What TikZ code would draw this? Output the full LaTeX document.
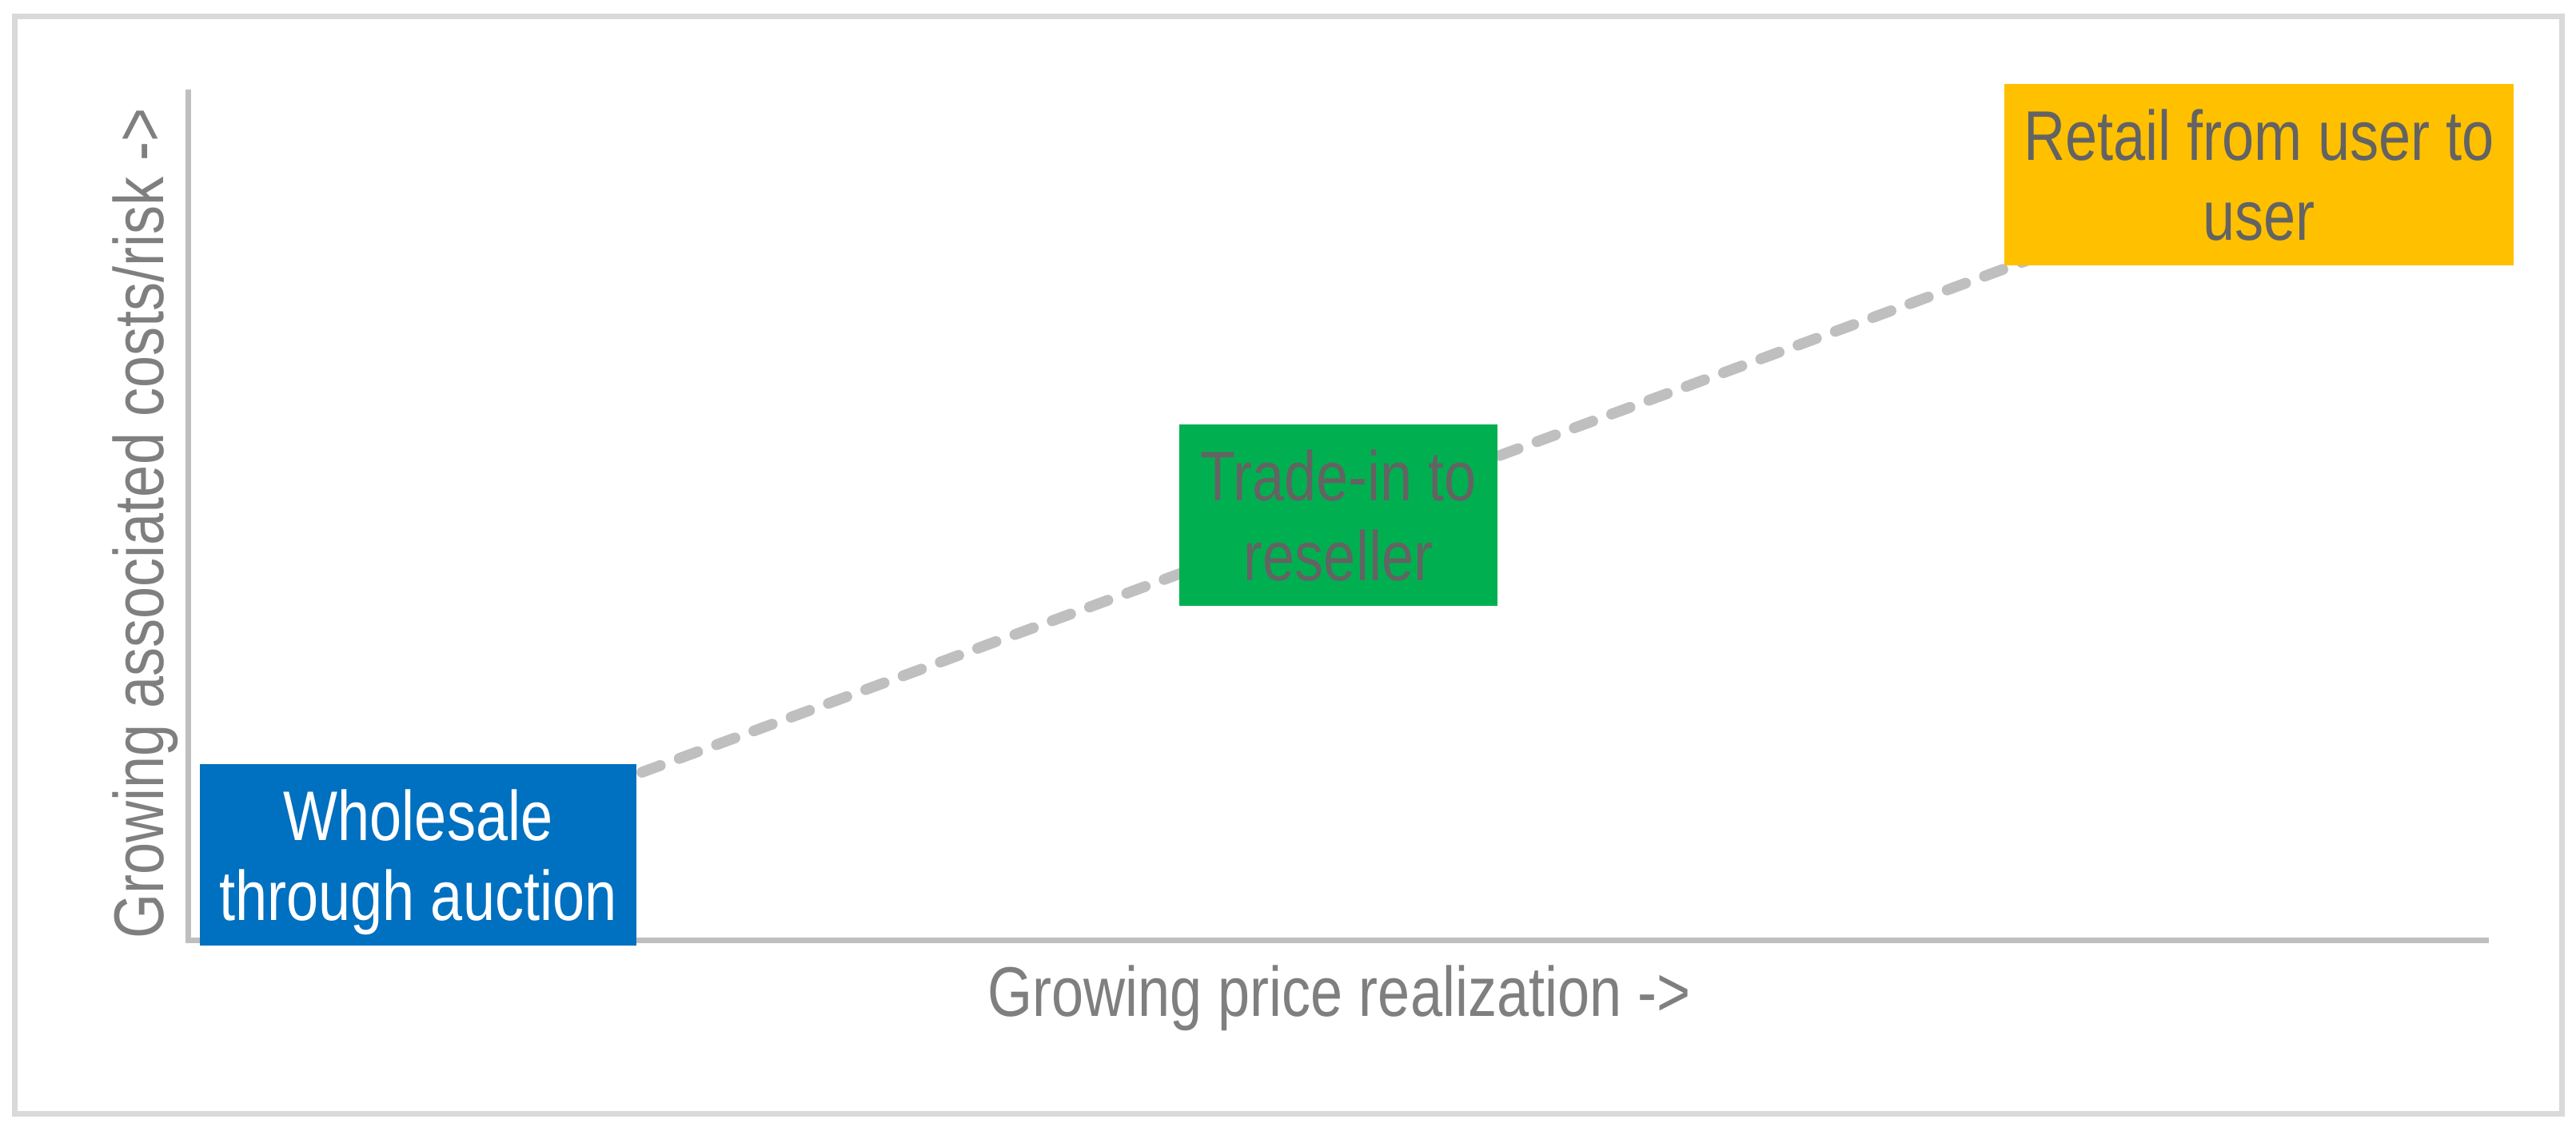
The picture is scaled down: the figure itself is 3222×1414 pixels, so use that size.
\documentclass[tikz,border=0pt]{standalone}
\usepackage{fontspec}
\setmainfont{Liberation Sans}[FakeStretch=0.82]
\usetikzlibrary{backgrounds}
\definecolor{framegray}{HTML}{D9D9D9}
\definecolor{axisgray}{HTML}{BFBFBF}
\definecolor{labelgray}{HTML}{7F7F7F}
\definecolor{boxtext}{HTML}{636363}
\definecolor{blueb}{HTML}{0070C0}
\definecolor{greenb}{HTML}{00B050}
\definecolor{orangeb}{HTML}{FFC000}
\tikzset{
  frameline/.style={draw=framegray, line width=0.07cm},
  axisline/.style={draw=axisgray, line width=0.07cm, line join=miter},
  trend/.style={draw=axisgray, line width=0.135cm, line cap=round, dash pattern=on 0.245cm off 0.252cm},
  boxs/.style={rectangle, inner sep=0pt, minimum height=2.27cm, align=center,
    font=\fontsize{25}{28.6}\selectfont, text depth=0pt},
  axlabel/.style={inner sep=0pt, text=labelgray, font=\fontsize{25}{30}\selectfont, anchor=base}
}
\begin{document}
\begin{tikzpicture}[x=0.01cm,y=-0.01cm]
\useasboundingbox (0,0) rectangle (3222,1414);
\draw[frameline] (18.5,20.5) rectangle (3204.5,1393);
\coordinate (ytop) at (235.5,112);
\coordinate (orig) at (235.5,1176.5);
\coordinate (xend) at (3113,1176.5);
\draw[axisline] (ytop) -- (orig) -- (xend);
\node[boxs, fill=blueb, text=white, minimum width=5.46cm] (whole) at (523,1069.5) {Wholesale\\through auction};
\node[boxs, fill=greenb, text=boxtext, minimum width=3.98cm] (trade) at (1674,644.5) {Trade-in to\\reseller};
\node[boxs, fill=orangeb, text=boxtext, minimum width=6.37cm] (retail) at (2825.5,218.5) {Retail from user to\\user};
\begin{scope}[on background layer]
\draw[trend] (whole.center) -- (trade.center) -- (retail.center);
\end{scope}
\node[axlabel] (xlab) at (1675,1271) {Growing price realization ->};
\node[axlabel, rotate=90] (ylab) at (204,655) {Growing associated costs/risk ->};
\end{tikzpicture}
\end{document}
